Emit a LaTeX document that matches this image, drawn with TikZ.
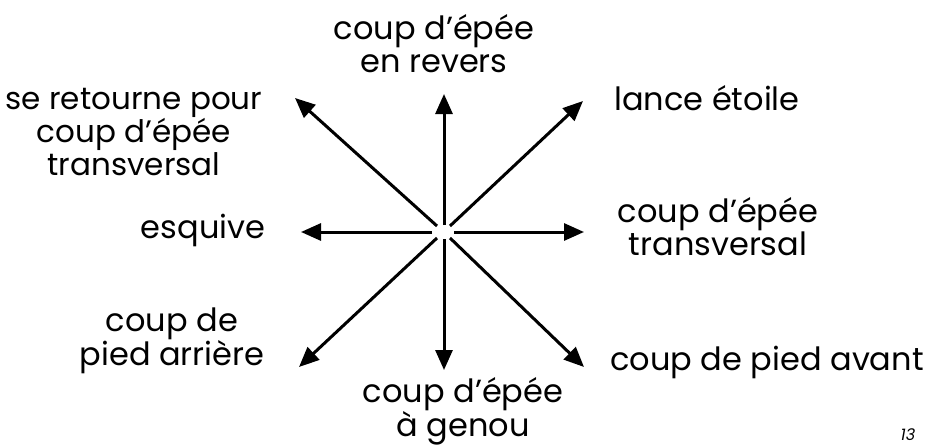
\documentclass[tikz,border=0pt]{standalone}
\usepackage{fontspec}
\setmainfont{Poppins}
\usetikzlibrary{arrows.meta}
\begin{document}
\begin{tikzpicture}[x=1pt,y=-1pt,
  lbl/.style={align=center,font=\fontsize{32}{33}\selectfont,inner sep=0pt},
  arr/.style={line width=3pt,-{Triangle[length=20pt,width=17pt]}}]
\useasboundingbox (0,0) rectangle (932,447);
\fill[white] (0,0) rectangle (932,447);
% arrow start/end coordinates
\coordinate (sN) at (444,225); \coordinate (eN) at (444,94);
\coordinate (sS) at (444,239); \coordinate (eS) at (444,370);
\coordinate (sW) at (432,232); \coordinate (eW) at (301,232);
\coordinate (sE) at (454,232); \coordinate (eE) at (584,232);
\coordinate (sNW) at (437,226); \coordinate (eNW) at (295,98);
\coordinate (sNE) at (450,226); \coordinate (eNE) at (583,101);
\coordinate (sSW) at (437,238); \coordinate (eSW) at (299,367);
\coordinate (sSE) at (450,238); \coordinate (eSE) at (584,367);
\foreach \d in {N,S,W,E,NW,NE,SW,SE} \draw[arr] (s\d) -- (e\d);
% labels
\node[lbl] (tN) at (434,44) {coup d’épée\\en revers};
\node[lbl,font=\fontsize{31}{33}\selectfont] (tNW) at (134,132) {se retourne pour\\coup d’épée\\transversal};
\node[lbl] (tNE) at (707,98) {lance étoile};
\node[lbl] (tW) at (203,230) {esquive};
\node[lbl] (tE) at (718,227) {coup d’épée\\transversal};
\node[lbl] (tSW) at (172,341) {coup de\\pied arrière};
\node[lbl] (tSE) at (767,362) {coup de pied avant};
\node[lbl] (tS) at (463,411) {coup d’épée\\à genou};
\node[font=\fontsize{16}{16}\selectfont\itshape,inner sep=0pt] (pg) at (908,435) {13};
\end{tikzpicture}
\end{document}
